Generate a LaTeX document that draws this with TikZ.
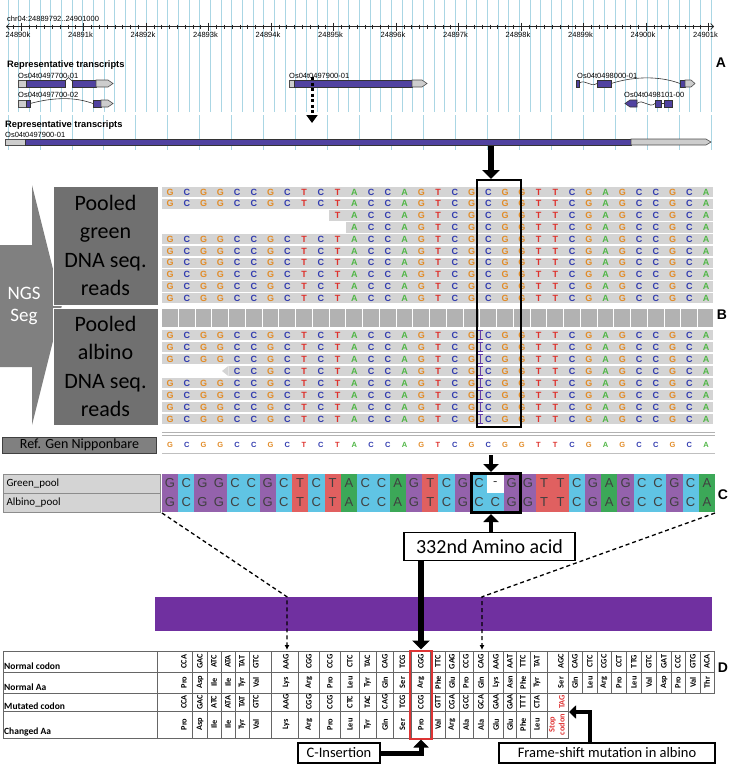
\documentclass[tikz,border=0pt]{standalone}
\usepackage{fontspec}
\setmainfont{Liberation Sans}
\newfontfamily\calfont{Carlito}
\usetikzlibrary{arrows.meta}

\definecolor{gridblue}{RGB}{170,214,228}
\definecolor{genepurple}{RGB}{80,66,160}
\definecolor{genegray}{RGB}{205,205,205}
\definecolor{baseG}{RGB}{226,140,40}
\definecolor{baseC}{RGB}{50,60,175}
\definecolor{baseT}{RGB}{222,50,45}
\definecolor{baseA}{RGB}{80,182,70}
\definecolor{readgray}{RGB}{212,212,212}
\definecolor{sepgray}{RGB}{178,178,178}
\definecolor{panelgray}{RGB}{112,112,112}
\definecolor{arrowgray}{RGB}{128,128,128}
\definecolor{refgray}{RGB}{128,128,128}
\definecolor{poolgray}{RGB}{212,212,212}
\definecolor{alnG}{RGB}{148,98,172}
\definecolor{alnC}{RGB}{96,196,228}
\definecolor{alnT}{RGB}{224,96,96}
\definecolor{alnA}{RGB}{60,168,88}
\definecolor{alnX}{RGB}{255,255,255}
\definecolor{barpurple}{RGB}{112,48,160}
\definecolor{boxred}{RGB}{222,52,52}
\definecolor{insviolet}{RGB}{98,60,170}

\def\refseq{G,C,G,G,C,C,G,C,T,C,T,A,C,C,A,G,T,C,G,C,G,G,T,T,C,G,A,G,C,C,G,C,A}
\def\greenseq{G,C,G,G,C,C,G,C,T,C,T,A,C,C,A,G,T,C,G,C,X,G,G,T,T,C,G,A,G,C,C,G,C,A}
\def\albinoseq{G,C,G,G,C,C,G,C,T,C,T,A,C,C,A,G,T,C,G,C,C,G,G,T,T,C,G,A,G,C,C,G,C,A}

\tikzset{
  exon/.style={fill=genepurple,draw=black!80,line width=.6pt},
  utr/.style={fill=genegray,draw=black!70,line width=.6pt},
  intron/.style={draw=black!80,line width=.6pt},
  tinylbl/.style={font=\fontsize{7.5}{8}\selectfont,anchor=south west,inner sep=0pt},
  axislbl/.style={font=\fontsize{7.5}{8}\selectfont,inner sep=0pt},
  tracktitle/.style={font=\bfseries\fontsize{9.3}{10}\selectfont,anchor=west,inner sep=0pt},
  basechar/.style={font=\bfseries\fontsize{9}{9}\selectfont,inner sep=0pt},
  refchar/.style={font=\bfseries\fontsize{7.5}{8}\selectfont,inner sep=0pt},
  panellbl/.style={fill=panelgray,draw=white,line width=1pt,align=center,font=\calfont\fontsize{22}{28.5}\selectfont,inner sep=0pt},
  poolbox/.style={draw=black!45,fill=poolgray,minimum width=157pt,minimum height=19pt,inner sep=0pt,text width=150pt,align=left,font=\calfont\fontsize{11}{11}\selectfont},
  alnchar/.style={font=\fontsize{13}{13}\selectfont,text=black!75,inner sep=0pt},
  celltxt/.style={rotate=90,font=\calfont\bfseries\fontsize{8.3}{10}\selectfont,inner sep=0pt},
  rowlbl/.style={font=\calfont\bfseries\fontsize{9.5}{10}\selectfont,anchor=west,inner sep=0pt},
  tablegrid/.style={draw=black!60,line width=.6pt},
  fatarrow/.style={line width=4.5pt,-{Triangle[length=8pt,width=15pt]}},
  callout/.style={draw,line width=1.2pt,fill=white,font=\calfont\fontsize{14.5}{15}\selectfont,inner sep=0pt},
  panelletter/.style={font=\bfseries\fontsize{14}{14}\selectfont,inner sep=0pt},
  linkdash/.style={line width=1.3pt,dash pattern=on 4pt off 3pt,-{Latex[length=5pt,width=5pt]}},
}

\begin{document}
\begin{tikzpicture}[x=1pt,y=-1pt]
\useasboundingbox (0,0) rectangle (729,769);

\foreach \k in {0,...,66}
  \draw[gridblue,line width=.7pt] ({8+10.65*\k},0) -- ++(0,112);
\foreach \k in {0,...,22}
  \draw[gridblue,line width=.8pt] ({8+31.95*\k},115) -- ++(0,35);

\node[tinylbl] (chrpos) at (7,21.5) {chr04:24889792..24901000};
\draw[black!85,line width=.6pt,{Straight Barb[length=3pt,width=6pt]}-{Straight Barb[length=3pt,width=6pt]}] (6,26.5) -- (714,26.5);
\foreach \k in {0,...,89}
  \draw[black!85,line width=.5pt] ({13.19+7.8125*\k},24.5) -- ++(0,4);
\foreach \k/\kb in {0/24890,1/24891,2/24892,3/24893,4/24894,5/24895,6/24896,7/24897,8/24898,9/24899,10/24900,11/24901}{
  \draw[black!85,line width=.7pt] ({21+62.5*\k},22.5) -- ++(0,8);
  \node[axislbl] (tick\k) at ({18+62.5*\k},35) {\kb k};
}

\node[tracktitle] (repA) at (7,65) {Representative transcripts};
\node[tinylbl] (t7701) at (18,78.5) {Os04t0497700-01};
\node[tinylbl] (t7702) at (18,98) {Os04t0497700-02};
\node[tinylbl] (t7901) at (289,78.5) {Os04t0497900-01};
\node[tinylbl] (t8001) at (577,78.5) {Os04t0498000-01};
\node[tinylbl] (t8101) at (624,98) {Os04t0498101-00};

\draw[utr] (18,80) rectangle (26,87);
\draw[exon] (26,80) rectangle (65,87);
\draw[intron] (65,81) -- (68.5,77.5) -- (72,81);
\draw[exon] (72,80) rectangle (96,87);
\draw[utr] (96,80) -- (108,80) -- (113,83.5) -- (108,87) -- (96,87) -- cycle;

\draw[utr] (18,100) rectangle (26,107);
\draw[exon] (26,100) rectangle (30,107);
\draw[intron] (30,103.5) .. controls (55,97) and (75,97) .. (93,103.5);
\draw[exon] (93,100) rectangle (101,107);
\draw[utr] (101,100) -- (108,100) -- (113,103.5) -- (108,107) -- (101,107) -- cycle;

\draw[utr] (289,80) rectangle (294,87);
\draw[exon] (294,80) rectangle (412,87);
\draw[utr] (412,80) -- (422,80) -- (427,83.5) -- (422,87) -- (412,87) -- cycle;

\draw[exon] (576,80) rectangle (579,87);
\draw[intron] (579,83.5) .. controls (585,78) and (590,88) .. (597,83.5);
\draw[exon] (597,80) rectangle (611,87);
\draw[intron] (611,83.5) .. controls (635,76) and (660,76) .. (680,83.5);
\draw[exon] (680,80) rectangle (685,87);
\draw[utr] (685,80) -- (691,80) -- (695,83.5) -- (691,87) -- (685,87) -- cycle;

\draw[exon] (625,103.5) -- (630,100) -- (637,100) -- (637,107) -- (630,107) -- cycle;
\draw[intron] (637,103.5) .. controls (643,98) and (649,109) .. (655,103.5);
\draw[exon] (655,100) rectangle (661,107);
\draw[intron] (661,103.5) -- (664,103.5);
\draw[exon] (664,100) rectangle (672,107);

\node[panelletter] (lblA) at (721,63) {A};

\node[tracktitle] (repB) at (5,125) {Representative transcripts};
\node[tinylbl] (t7901b) at (5,137.5) {Os04t0497900-01};
\draw[utr] (5,139) rectangle (25,145);
\draw[exon] (25,139) rectangle (631,145);
\draw[utr] (631,139) -- (706,139) -- (711,142) -- (706,145) -- (631,145) -- cycle;

\coordinate (dotstart) at (312,77);
\coordinate (dotend) at (312,123);
\draw[line width=3pt,dash pattern=on 3pt off 2.5pt,-{Triangle[length=8pt,width=11pt]}] (dotstart) -- (dotend);

\fill[arrowgray] (0,245) -- (32,245) -- (32,185) -- (62,305) -- (32,425) -- (32,367) -- (0,367) -- cycle;
\node[font=\calfont\fontsize{19}{22}\selectfont,text=white,align=center,inner sep=0pt] (ngs) at (24,306) {NGS\\Seg};
\node[panellbl,minimum width=105pt,minimum height=119pt] (greenlbl) at (105.5,245.5) {Pooled\\green\\DNA seq.\\reads};
\node[panellbl,minimum width=105pt,minimum height=117pt] (albinolbl) at (105.5,366.5) {Pooled\\albino\\DNA seq.\\reads};

\foreach \y/\st [count=\rw] in {192/0,203.8/0,215.6/10,227.4/11,239.2/0,251/0,262.8/0,274.6/0,286.4/0,298.2/0,
  335/0,347/0,359/0,371/4,383/0,395/0,407/0,419/0}{
  \fill[readgray] ({161.5+16.75*\st},\y-5.2) rectangle (713,\y+5.2);
  \foreach \nt [count=\i from 0] in \refseq {
    \ifnum\i<\st\relax\else\node[basechar,text=base\nt] (rd\rw-\i) at ({170+16.75*\i},\y) {\nt};\fi
  }
}
\fill[readgray] (222,371) -- (228.5,365.8) -- (228.5,376.2) -- cycle;
\foreach \y in {335,347,359,371,383,395,407,419}
  \draw[insviolet,line width=1.1pt] (478,\y-4.5) -- (483,\y-4.5) (480.5,\y-4.5) -- (480.5,\y+4.5) (478,\y+4.5) -- (483,\y+4.5);

\fill[sepgray] (162,308.5) rectangle (713,327);
\foreach \k in {0,...,31}
  \draw[white,line width=1pt] ({178.4+16.75*\k},308.5) -- ++(0,18.5);

\node[draw,line width=2pt,minimum width=44pt,minimum height=247pt,inner sep=0pt] (colbox) at (499,303.5) {};
\node[panelletter] (lblB) at (722,315) {B};

\coordinate (trdown) at (491,146);
\draw[fatarrow,line width=6pt,-{Triangle[length=9pt,width=17pt]}] (trdown) -- (trdown |- colbox.north);

\draw[black!30,line width=1pt] (162,432) -- (715,432);
\draw[black!30,line width=1pt] (162,435.5) -- (715,435.5);
\draw[black!25,line width=.5pt] (162,453) -- (715,453);
\node[draw=black!75,fill=refgray,minimum width=154pt,minimum height=16pt,inner sep=0pt,font=\calfont\fontsize{14}{14}\selectfont] (reflbl) at (79.5,445) {Ref. Gen Nipponbare};
\foreach \nt [count=\i from 0] in \refseq
  \node[refchar,text=base\nt] (ref\i) at ({170+16.75*\i},445) {\nt};

\node[poolbox] (greenpool) at (81.5,483.5) {Green\_pool};
\node[poolbox] (albinopool) at (81.5,502.5) {Albino\_pool};
\foreach \nt [count=\i from 0] in \greenseq {
  \fill[aln\nt] ({161.9+16.27*\i},474) rectangle ++(16.27,19);
  \node[alnchar] (gp\i) at ({170+16.27*\i},483.5) {\if\nt X-\else\nt\fi};
}
\foreach \nt [count=\i from 0] in \albinoseq {
  \fill[aln\nt] ({161.9+16.27*\i},493) rectangle ++(16.27,19);
  \node[alnchar] (ap\i) at ({170+16.27*\i},502.5) {\nt};
}
\node[draw,line width=3pt,minimum width=49pt,minimum height=39pt,inner sep=0pt] (snpbox) at (495.5,493) {};
\node[panelletter] (lblC) at (723,495) {C};

\coordinate (refdown) at (491,455);
\draw[fatarrow] (refdown) -- (refdown |- snpbox.north);
\node[callout,font=\calfont\fontsize{20}{20}\selectfont,minimum width=171pt,minimum height=28pt] (box332) at (489.5,546.5) {332nd Amino acid};
\draw[fatarrow] (box332.north -| refdown) -- (refdown |- snpbox.south);

\node[fill=barpurple,minimum width=557pt,minimum height=34pt,inner sep=0pt] (protbar) at (433.5,614) {};
\coordinate (alnSW) at (162,513);
\coordinate (alnSE) at (715,513);
\coordinate (lyscol) at (287,650);
\coordinate (glncol) at (482,650);
\draw[linkdash] (alnSW) -- (lyscol |- protbar.north) -- (lyscol);
\draw[linkdash] (alnSE) -- (glncol |- protbar.north) -- (glncol);

\draw[tablegrid] (3,651) rectangle (714,693);
\draw[tablegrid] (3,693) -- (3,738) -- (568,738) -- (568,693);
\draw[tablegrid] (3,672) -- (714,672);
\draw[tablegrid] (3,711) -- (568,711);
\foreach \x in {157,192,207,221,235,249,271.5,298,319.5,340.5,359,376,393.5,411.5,430,445.5,459,473.5,488.5,503,516.5,530,547,568}
  \draw[tablegrid] (\x,651) -- (\x,738);
\foreach \x in {582.5,597,611.5,626.5,641.5,656.5,671,685.5,700}
  \draw[tablegrid] (\x,651) -- (\x,693);

\node[rowlbl] (lblnc) at (4,666) {Normal codon};
\node[rowlbl] (lblna) at (4,687) {Normal Aa};
\node[rowlbl] (lblmc) at (4,706) {Mutated codon};
\node[rowlbl] (lblma) at (4,732) {Changed Aa};

\foreach \x/\nc/\na/\mc/\ma [count=\c] in {184/CCA/Pro/CCA/Pro,200/GAC/Asp/GAC/Asp,214/ATC/Ile/ATC/Ile,228/ATA/Ile/ATA/Ile,
  242/TAT/Tyr/TAT/Tyr,256/GTC/Val/GTC/Val,286/AAG/Lys/AAG/Lys,309/CGG/Arg/CGG/Arg,330/CCG/Pro/CCG/Pro,350/CTC/Leu/CTC/Leu,
  367.5/TAC/Tyr/TAC/Tyr,385/CAG/Gln/CAG/Gln,402.5/TCG/Ser/TCG/Ser,421/CGG/Arg/CCG/Pro,438/TTC/Phe/GTT/Val,452/GAG/Glu/CGA/Arg,
  466/CCG/Pro/GCC/Ala,481/CAG/Gln/GCA/Ala,496/AAG/Lys/GAA/Glu,510/AAT/Asn/GAA/Glu,523/TTC/Phe/TTT/Phe,537/TAT/Tyr/CTA/Leu}{
  \node[celltxt] (nc\c) at (\x,661.5) {\nc};
  \node[celltxt] (na\c) at (\x,682.5) {\na};
  \node[celltxt] (mc\c) at (\x,702) {\mc};
  \node[celltxt] (ma\c) at (\x,724.5) {\ma};
}
\node[celltxt] (nc23) at (561,661.5) {AGC};
\node[celltxt] (na23) at (561,682.5) {Ser};
\node[celltxt,text=boxred] (mc23) at (562,702) {TAG};
\node[celltxt,text=boxred,align=center] (ma23) at (557,724.5) {Stop\\codon};
\foreach \x/\nc/\na [count=\c from 24] in {575/CAG/Gln,590/CTC/Leu,604/CGC/Arg,619/CCT/Pro,634/TTG/Leu,
  649/GTC/Val,664/GAT/Asp,678/CCC/Pro,693/GTG/Val,707/ACA/Thr}{
  \node[celltxt] (nc\c) at (\x,661.5) {\nc};
  \node[celltxt] (na\c) at (\x,682.5) {\na};
}
\node[panelletter] (lblD) at (723,668) {D};

\node[draw=boxred,line width=2pt,minimum width=22pt,minimum height=88pt,inner sep=0pt] (redcol) at (421,694.5) {};
\draw[fatarrow,line width=5.5pt,-{Triangle[length=9pt,width=17pt]}] (box332.south -| redcol.north) -- (redcol.north);

\node[callout,minimum width=82pt,minimum height=20pt] (cins) at (339,753) {C-Insertion};
\draw[fatarrow,line width=5pt] (cins.east) -| (redcol.south);

\node[callout,minimum width=216pt,minimum height=20pt] (fshift) at (607,753) {Frame-shift mutation in albino};
\coordinate (fsbend) at (590,712);
\coordinate (stopcell) at (569,712);
\draw[fatarrow,line width=4pt,-{Triangle[length=7pt,width=13pt]}] (fshift.north -| fsbend) -- (fsbend) -- (stopcell);
\end{tikzpicture}
\end{document}
